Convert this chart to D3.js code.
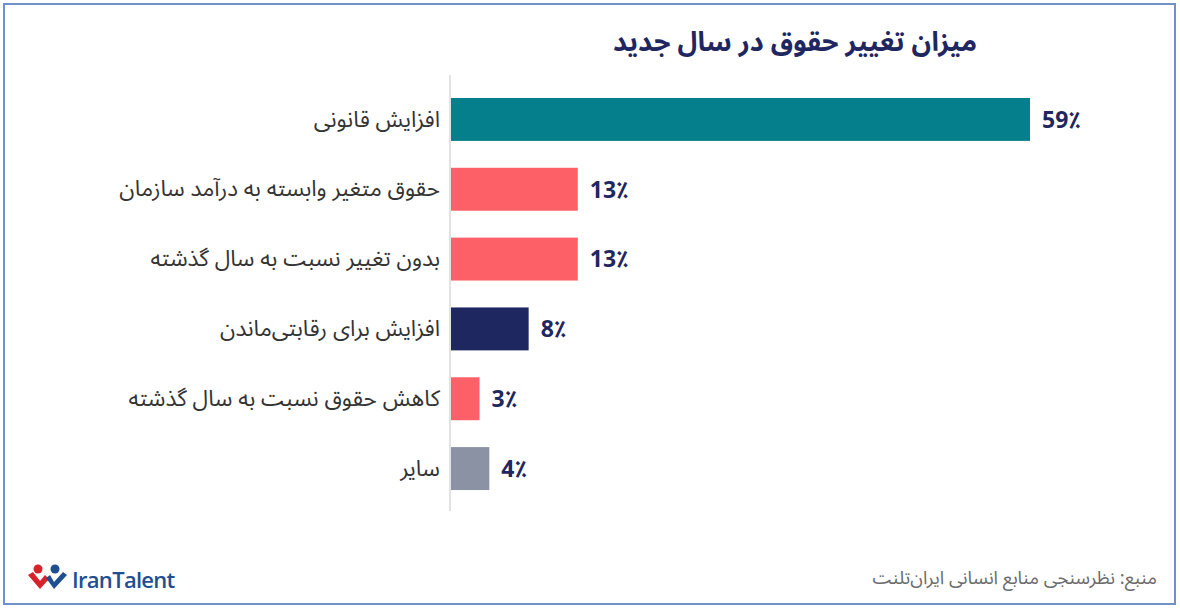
<!DOCTYPE html>
<html>
<head>
<meta charset="utf-8">
<script src="https://cdn.jsdelivr.net/npm/d3@7"></script>
<style>
  html, body { margin: 0; padding: 0; background: #fff; }
  svg { display: block; font-family: 'Noto Sans Arabic', 'DejaVu Sans', sans-serif; }
</style>
</head>
<body>
<div class="svg-container"></div>
<script>
const w = 1180;
const h = 613;

// data
const categories = [
	'افزایش قانونی',
	'حقوق متغیر وابسته به درآمد سازمان',
	'بدون تغییر نسبت به سال گذشته',
	'افزایش برای رقابتی‌ماندن',
	'کاهش حقوق نسبت به سال گذشته',
	'سایر',
];
const values = [59, 13, 13, 8, 3, 4];
const barColors = ['#047f8b', '#fe6067', '#fe6067', '#1f2760', '#fe6067', '#8a92a4'];

const title = 'میزان تغییر حقوق در سال جدید';
const source = 'منبع: نظرسنجی منابع انسانی ایران‌تلنت';

const arabicFont = "'Noto Sans Arabic', 'DejaVu Sans', sans-serif";

const svg = d3
	.select('.svg-container')
	.append('svg')
	.attr('width', w)
	.attr('height', h);

// frame
svg
	.append('rect')
	.attr('x', 4)
	.attr('y', 4)
	.attr('width', 1171)
	.attr('height', 600)
	.attr('fill', '#fff')
	.attr('stroke', '#7092cc')
	.attr('stroke-width', 2);

svg
	.append('text')
	.attr('x', 795)
	.attr('y', 51)
	.style('text-anchor', 'middle')
	.style('font-size', '27px')
	.style('font-weight', 'bold')
	.style('fill', '#1f2760')
	.style('font-family', arabicFont)
	.attr('direction', 'rtl')
	.text(title);

const xScale = d3.scaleLinear().domain([0, 59]).range([450, 1030]);

const yScale = d3
	.scaleBand()
	.domain(categories)
	.range([84, 504])
	.paddingInner(0.385)
	.paddingOuter(0.2);

// axis line
svg
	.append('line')
	.attr('x1', xScale(0))
	.attr('x2', xScale(0))
	.attr('y1', 75)
	.attr('y2', 511)
	.attr('stroke', '#d9d9d9')
	.attr('stroke-width', 1.5);

svg
	.selectAll('.bar')
	.data(values)
	.enter()
	.append('rect')
	.attr('class', 'bar')
	.attr('x', xScale(0) + 1)
	.attr('y', (d, i) => yScale(categories[i]))
	.attr('width', d => xScale(d) - xScale(0) - 1)
	.attr('height', yScale.bandwidth())
	.attr('fill', (d, i) => barColors[i]);

svg
	.selectAll('.value-label')
	.data(values)
	.enter()
	.append('text')
	.attr('class', 'value-label')
	.attr('x', d => xScale(d) + 12)
	.attr('y', (d, i) => yScale(categories[i]) + yScale.bandwidth() / 2)
	.attr('dy', '0.36em')
	.style('font-family', arabicFont)
	.style('font-size', '23px')
	.style('font-weight', 'bold')
	.style('fill', '#1f2760')
	.text(d => d + '٪');

const yAxis = d3.axisLeft(yScale).tickSize(0).tickPadding(10);

const yAxisG = svg
	.append('g')
	.attr('transform', `translate(${xScale(0)}, 0)`)
	.call(yAxis);

yAxisG.select('.domain').remove();
yAxisG
	.selectAll('text')
	.style('font-size', '22.5px')
	.style('fill', '#333')
	.style('font-family', arabicFont);

// source
svg
	.append('text')
	.attr('x', 1157)
	.attr('y', 584)
	.attr('direction', 'rtl')
	.style('text-anchor', 'start')
	.style('font-size', '18.5px')
	.style('fill', '#6b6b6b')
	.style('font-family', arabicFont)
	.text(source);

// logo
const logo = svg.append('g').attr('transform', 'translate(28, 564)');
logo.append('circle').attr('cx', 10).attr('cy', 5).attr('r', 4.5).attr('fill', '#d7222c');
logo
	.append('path')
	.attr('d', 'M0 11 L12 25 L21 15 L17 11 L12 17 L5 8 Z')
	.attr('fill', '#d7222c');
logo.append('circle').attr('cx', 27).attr('cy', 5).attr('r', 4.5).attr('fill', '#1d4f91');
logo
	.append('path')
	.attr('d', 'M18 14 L26 25 L39 11 L35 8 L26 18 L22 11 Z')
	.attr('fill', '#1d4f91');
logo
	.append('text')
	.attr('x', 44)
	.attr('y', 24)
	.style('font-family', "'Open Sans', sans-serif")
	.style('font-size', '22px')
	.style('font-weight', 600)
	.style('letter-spacing', '-0.7px')
	.style('fill', '#1d4f91')
	.text('IranTalent');
</script>
</body>
</html>
